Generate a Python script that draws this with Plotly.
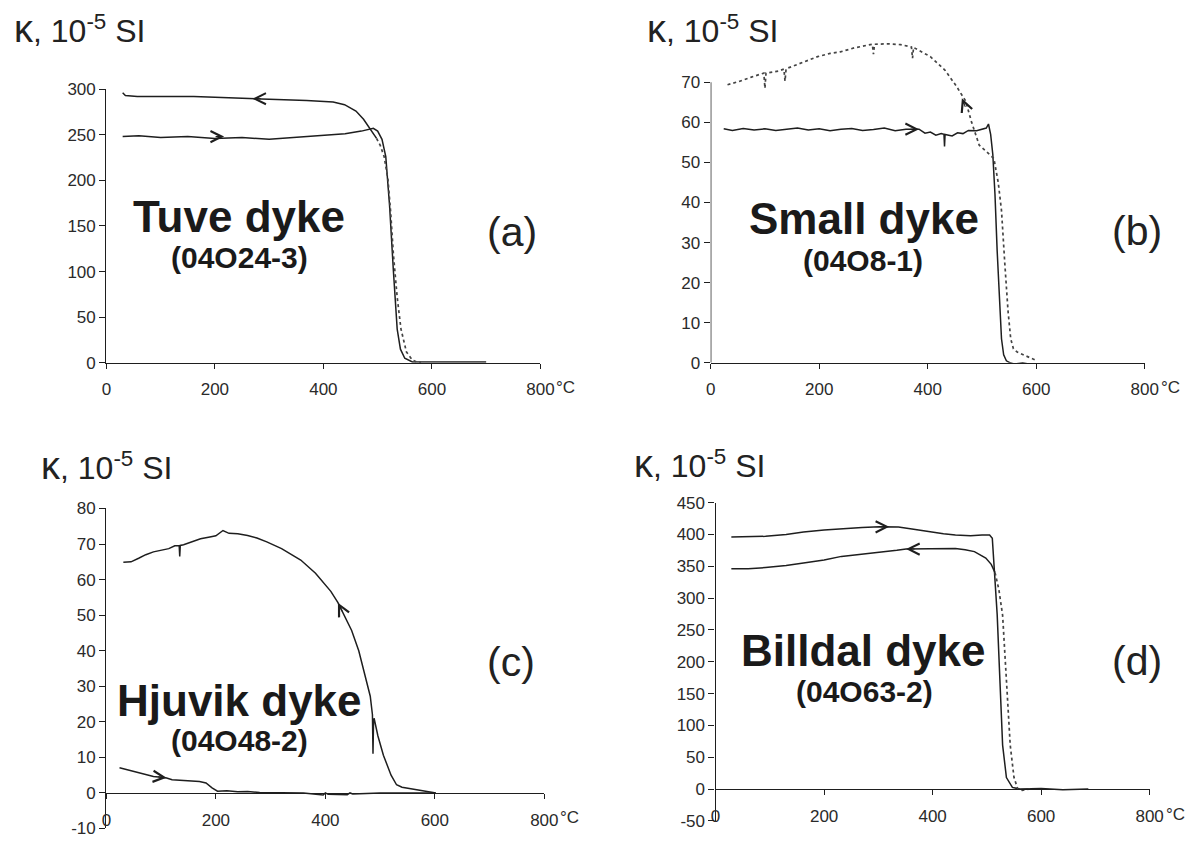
import plotly.graph_objects as go

# ---------------- data ----------------
# Panel (a) Tuve dyke
a_heat_T = [30, 60, 100, 150, 200, 250, 300, 350, 400, 440, 470, 485, 492, 500, 508, 515, 518, 522, 529, 536, 542, 550, 564, 600, 650, 700]
a_heat_k = [248, 249, 247, 248, 246, 247, 245, 247, 249, 251, 254, 256, 257, 254, 245, 226, 201, 172, 101, 37, 15, 5, 1, 1, 1, 1]
a_cool_T = [30, 35, 57, 100, 161, 200, 265, 300, 369, 418, 439, 460, 474, 487, 498]
a_cool_k = [296, 293, 292, 292, 292, 291, 290, 289, 287.5, 286, 283, 276, 267, 256, 246]
a_cdot_T = [498, 505, 512, 519, 524, 529, 536, 543, 553, 564, 574, 580]
a_cdot_k = [246, 238, 226, 201, 165, 119, 72, 37, 12, 3, 0.5, 0.5]

# Panel (b) Small dyke
b_heat_T = [24, 40, 60, 80, 100, 120, 140, 160, 180, 200, 220, 240, 260, 280, 300, 320, 340, 360, 384, 395, 405, 415, 425, 430, 431, 432, 445, 455, 465, 475, 490, 500, 508, 512, 516, 520, 524, 528, 532, 536, 540, 545, 552, 560, 575, 590, 610, 630, 650, 670, 690, 702]
b_heat_k = [58.4, 58.0, 58.5, 58.1, 58.4, 58.0, 58.3, 58.6, 58.1, 58.4, 57.9, 58.3, 58.5, 58.0, 58.2, 58.6, 57.9, 58.3, 58.3, 57.3, 57.6, 56.8, 57.2, 57.0, 54.0, 57.0, 56.6, 57.4, 57.2, 58.0, 57.9, 58.3, 58.6, 59.6, 57.0, 52.0, 42.0, 28.0, 15.0, 6.0, 2.0, 0.5, 0.0, -0.3, 0.0, -0.4, -0.2, -0.5, -0.2, -0.6, -0.3, -0.5]
b_cool_T = [31, 52, 75, 98, 100, 102, 125, 135, 137, 139, 149, 175, 197, 220, 239, 265, 287, 298, 300, 302, 328, 350, 370, 372, 374, 390, 405, 432, 453, 470, 481, 495, 510, 522, 530, 536, 542, 548, 553, 558, 565, 584, 598]
b_cool_k = [69.4, 70.2, 71.3, 72.3, 68.5, 72.3, 72.8, 73.3, 70.3, 73.4, 73.9, 75.3, 76.4, 77.2, 77.6, 78.6, 79.2, 79.5, 77.0, 79.5, 79.6, 79.4, 78.8, 76.0, 78.7, 77.6, 76.4, 73.0, 69.0, 65.3, 60.0, 54.3, 52.5, 51.0, 45.0, 38.0, 25.0, 13.0, 6.0, 3.5, 2.7, 1.5, 0.7]

# Panel (c) Hjuvik dyke
c_heat_T = [24, 40, 52, 70, 86, 100, 110, 120, 140, 155, 170, 182, 193, 203, 220, 240, 258, 280, 320, 360, 396, 400, 405, 440, 445, 450, 500, 550, 600]
c_heat_k = [7.1, 6.5, 6.0, 5.2, 4.6, 4.4, 4.2, 3.7, 3.5, 3.4, 3.2, 2.8, 1.4, 0.5, 0.6, 0.3, 0.4, 0.1, 0.0, 0.0, -0.6, 0.0, -0.4, -0.5, 0.0, -0.3, 0.0, 0.0, 0.0]
c_cool_T = [31, 45, 59, 72, 86, 100, 114, 125, 133, 134, 135, 141, 155, 172, 189, 200, 213, 224, 240, 258, 275, 293, 320, 355, 382, 410, 423, 430, 448, 461, 472, 482, 486, 487, 488, 489, 496, 506, 520, 530, 540, 568, 589, 602]
c_cool_k = [64.9, 65.0, 66.0, 67.0, 67.8, 68.2, 68.7, 69.5, 69.6, 66.5, 69.6, 69.8, 70.6, 71.5, 72.0, 72.3, 73.8, 73.0, 72.9, 72.4, 71.7, 70.6, 68.7, 65.5, 61.8, 56.7, 53.5, 51.2, 45.7, 40.0, 33.7, 27.2, 22.0, 11.0, 20.0, 21.0, 16.0, 10.6, 5.0, 2.3, 1.6, 0.9, 0.5, 0.0]

# Panel (d) Billdal dyke
d_heat_T = [29, 60, 92, 130, 162, 200, 232, 270, 302, 320, 337, 365, 393, 420, 442, 470, 491, 505, 510, 513, 516, 519, 524, 529, 536, 547, 561, 600, 640, 687]
d_heat_k = [396, 396, 397, 400, 404, 407, 409, 411, 412, 412, 411.5, 408, 404, 401, 399, 398, 399, 399, 394, 350, 310, 274, 171, 69, 18, 2.5, 0, 1, -1, 0]
d_cool_T = [29, 60, 92, 130, 162, 200, 232, 270, 302, 334, 351, 393, 420, 442, 460, 477, 498, 508, 515]
d_cool_k = [346, 346, 348, 351, 355, 360, 365.5, 369, 371, 375, 377, 378, 378.5, 378, 376, 373, 363, 353, 340]
d_cdot_T = [515, 522, 529, 536, 543, 550, 557, 565, 580]
d_cdot_k = [340, 314, 273, 171, 69, 18, 0, -2, 0]

# direction arrows on curves: (T, kappa, tail dx px, tail dy px)
a_arrows = [(217, 248, -10, 0), (269, 289.5, 10, 0)]
b_arrows = [(384, 58.3, -10, 0), (463, 66, 4, 10)]
c_arrows = [(110, 4.3, -10, -1), (423, 53.5, 5, 10)]
d_arrows = [(320, 412, -10, 0), (351, 377, 10, 0)]

x_ticks = [0, 200, 400, 600, 800]
x_ticktext = ["0", "200", "400", "600", "800"]
a_yticks = [0, 50, 100, 150, 200, 250, 300]
b_yticks = [0, 10, 20, 30, 40, 50, 60, 70]
c_yticks = [-10, 0, 10, 20, 30, 40, 50, 60, 70, 80]
d_yticks = [-50, 0, 50, 100, 150, 200, 250, 300, 350, 400, 450]

names = ["Tuve dyke", "Small dyke", "Hjuvik dyke", "Billdal dyke"]
samples = ["(04O24-3)", "(04O8-1)", "(04O48-2)", "(04O63-2)"]
letters = ["(a)", "(b)", "(c)", "(d)"]
ylabel = '<span style="font-size:38px">κ</span>, 10<sup>-5</sup> SI'

# ---------------- layout helpers ----------------
W, H = 1204, 842
FONT = "Liberation Sans, Arial, sans-serif"
INK = "#1e1e1e"


def fx(p):
    return p / W


def fy(p):
    return 1 - p / H


fig = go.Figure()

panels = [
    dict(n="", xd=(103, 544), yd=(362, 82), yr=[0, 300], yt=a_yticks, xpos=None, ymaxline=None,
         heat=(a_heat_T, a_heat_k), cool=(a_cool_T, a_cool_k), cdot=(a_cdot_T, a_cdot_k), arrows=a_arrows,
         lab=(7, 20), name=(238, 212), samp=(238, 254), let=(515, 228)),
    dict(n="2", xd=(717, 1158), yd=(362, 17.6), yr=[0, 84], yt=b_yticks, xpos=None, ymaxline=70,
         heat=(b_heat_T, b_heat_k), cool=None, cdot=(b_cool_T, b_cool_k), arrows=b_arrows,
         lab=(650, 20), name=(873, 214), samp=(872, 257), let=(1150, 227)),
    dict(n="3", xd=(103, 548), yd=(838.4, 511), yr=[-10, 80], yt=c_yticks, xpos=802, ymaxline=None,
         heat=(c_heat_T, c_heat_k), cool=(c_cool_T, c_cool_k), cdot=None, arrows=c_arrows,
         lab=(35, 468), name=(238, 707), samp=(238, 748), let=(514, 668)),
    dict(n="4", xd=(722, 1163), yd=(830.6, 505), yr=[-50, 450], yt=d_yticks, xpos=798, ymaxline=None,
         heat=(d_heat_T, d_heat_k), cool=(d_cool_T, d_cool_k), cdot=(d_cdot_T, d_cdot_k), arrows=d_arrows,
         lab=(637, 466), name=(872, 656), samp=(873, 698), let=(1150, 667)),
]

annotations = []
shapes = []
layout_axes = {}

for i, p in enumerate(panels):
    xa = "x" + p["n"]
    ya = "y" + p["n"]
    xkey = "xaxis" + p["n"]
    ykey = "yaxis" + p["n"]

    xax = dict(domain=[fx(p["xd"][0]), fx(p["xd"][1])], range=[0, 800], tickmode="array",
               tickvals=x_ticks, ticktext=x_ticktext, ticks="outside", ticklen=5, tickwidth=1.3,
               tickcolor=INK, showline=True, linecolor=INK, linewidth=1.4, showgrid=False,
               zeroline=False, tickfont=dict(family=FONT, size=17, color="#2a2a2a"),
               ticklabelstandoff=6, fixedrange=True)
    if p["xpos"] is not None:
        xax.update(anchor="free", position=fy(p["xpos"]))
    else:
        xax.update(anchor=ya)

    yax = dict(domain=[fy(p["yd"][0]), fy(p["yd"][1])], range=p["yr"], tickmode="array",
               tickvals=p["yt"], ticktext=[str(v) for v in p["yt"]], ticks="outside", ticklen=6,
               tickwidth=1.3, tickcolor=INK, showline=p["ymaxline"] is None, linecolor=INK,
               linewidth=1.4, showgrid=False, zeroline=False, anchor=xa,
               tickfont=dict(family=FONT, size=17, color="#2a2a2a"), fixedrange=True)
    layout_axes[xkey] = xax
    layout_axes[ykey] = yax

    if p["ymaxline"] is not None:
        shapes.append(dict(type="line", xref=xa, yref=ya, x0=0, x1=0, y0=p["yr"][0], y1=p["ymaxline"],
                           line=dict(color=INK, width=1.4)))

    # curves
    hT, hk = p["heat"]
    fig.add_trace(go.Scatter(x=hT, y=hk, mode="lines", xaxis=xa, yaxis=ya,
                             line=dict(color=INK, width=1.5), showlegend=False, hoverinfo="skip"))
    if p["cool"] is not None:
        cT, ck = p["cool"]
        fig.add_trace(go.Scatter(x=cT, y=ck, mode="lines", xaxis=xa, yaxis=ya,
                                 line=dict(color=INK, width=1.5), showlegend=False, hoverinfo="skip"))
    if p["cdot"] is not None:
        dT, dk = p["cdot"]
        fig.add_trace(go.Scatter(x=dT, y=dk, mode="lines", xaxis=xa, yaxis=ya,
                                 line=dict(color="#444", width=1.7, dash="dot"),
                                 showlegend=False, hoverinfo="skip"))

    for (T, k, dx, dy) in p["arrows"]:
        annotations.append(dict(x=T, y=k, xref=xa, yref=ya, text="", showarrow=True, arrowhead=5,
                                arrowsize=2.0, arrowwidth=1.1, arrowcolor=INK, ax=dx, ay=dy,
                                standoff=0))

    # °C after 800
    annotations.append(dict(x=800, y=0, xref=xa, yref=ya, text="°C", showarrow=False,
                            xanchor="left", yanchor="middle", xshift=14, yshift=-25,
                            font=dict(family=FONT, size=17, color="#2a2a2a")))

    # texts
    annotations.append(dict(x=fx(p["lab"][0]), y=fy(p["lab"][1]), xref="paper", yref="paper",
                            text=ylabel, showarrow=False, xanchor="left", yanchor="middle",
                            font=dict(family=FONT, size=32, color="#222")))
    annotations.append(dict(x=fx(p["name"][0]), y=fy(p["name"][1]), xref="paper", yref="paper",
                            text="<b>" + names[i] + "</b>", showarrow=False, xanchor="center",
                            yanchor="middle", font=dict(family=FONT, size=44, color="#1a1a1a")))
    annotations.append(dict(x=fx(p["samp"][0]), y=fy(p["samp"][1]), xref="paper", yref="paper",
                            text="<b>" + samples[i] + "</b>", showarrow=False, xanchor="center",
                            yanchor="middle", font=dict(family=FONT, size=30, color="#1a1a1a")))
    annotations.append(dict(x=fx(p["let"][0]), y=fy(p["let"][1]), xref="paper", yref="paper",
                            text=letters[i], showarrow=False, xanchor="center",
                            yanchor="middle", font=dict(family=FONT, size=41, color="#222")))

fig.update_layout(width=W, height=H, margin=dict(l=0, r=0, t=0, b=0), autosize=False,
                  paper_bgcolor="white", plot_bgcolor="white", showlegend=False,
                  annotations=annotations, shapes=shapes, **layout_axes)

fig.write_html("out.html", config={"displayModeBar": False},
               post_script="document.body.style.margin='0';")
